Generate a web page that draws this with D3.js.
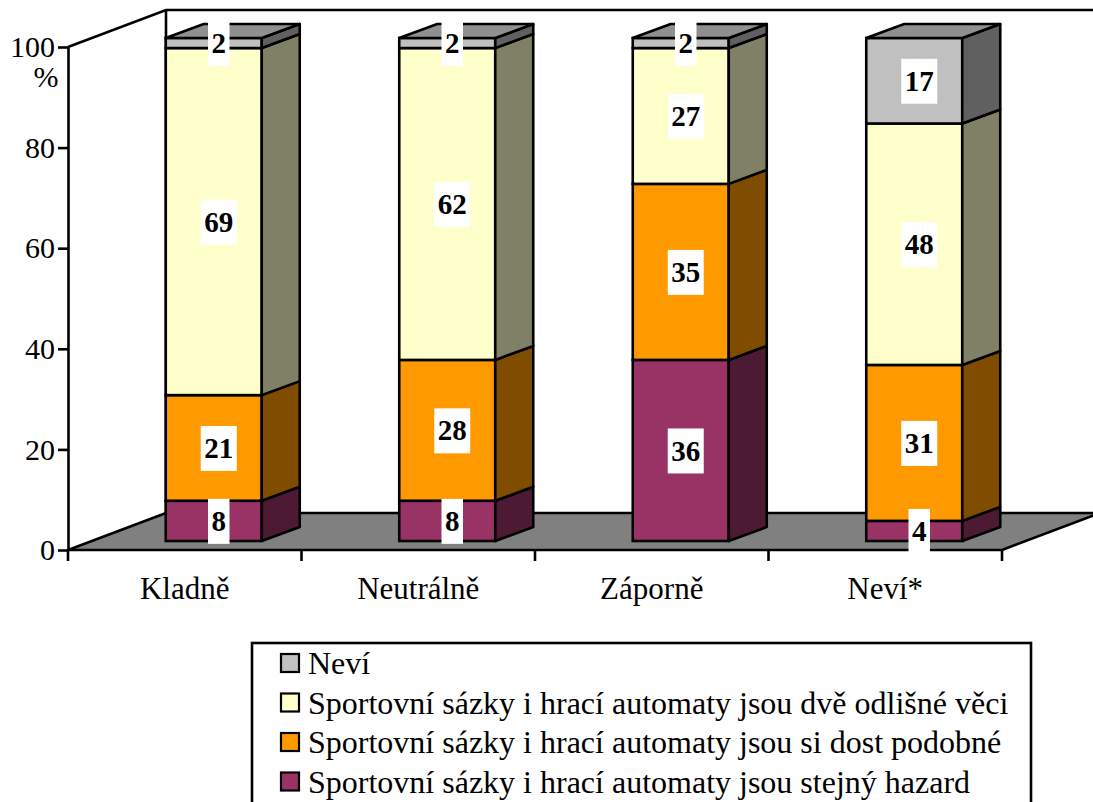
<!DOCTYPE html>
<html>
<head>
<meta charset="utf-8">
<script src="https://cdn.jsdelivr.net/npm/d3@7"></script>
<style>
  body { margin: 0; background: white; }
</style>
</head>
<body>
<div id="chart"></div>
<script>
// kategorie a hodnoty (%)
var categories = ["Kladně", "Neutrálně", "Záporně", "Neví*"];
var stejny = [8, 8, 36, 4];
var podobne = [21, 28, 35, 31];
var odlisne = [69, 62, 27, 48];
var nevi = [2, 2, 2, 17];
var yTicks = [0, 20, 40, 60, 80, 100];

var seriesNames = [
  "Sportovní sázky i hrací automaty jsou stejný hazard",
  "Sportovní sázky i hrací automaty jsou si dost podobné",
  "Sportovní sázky i hrací automaty jsou dvě odlišné věci",
  "Neví"
];
var seriesValues = [stejny, podobne, odlisne, nevi];
// barvy: přední stěna, boční stěna, horní stěna
var colors = [
  { front: "#993366", side: "#4d1a33", top: "#732650" },
  { front: "#ff9900", side: "#804c00", top: "#bf7300" },
  { front: "#ffffcc", side: "#808066", top: "#bfbf99" },
  { front: "#c0c0c0", side: "#606060", top: "#909090" }
];

var FONT = "'Liberation Serif', 'Times New Roman', Times, 'DejaVu Serif', serif";

var W = 1093, H = 802;
var svg = d3.select("#chart").append("svg").attr("width", W).attr("height", H)
  .attr("font-family", FONT);

var x = d3.scaleBand().domain(categories).range([68, 1002]);
var y = d3.scaleLinear().domain([0, 100]).range([550, 47]);

// hloubka 3D
var depth = { dx: 98, dy: -37 };
var barShift = { dx: 29, dy: -9 };
var barDepth = { dx: 38, dy: -14 };
var barW = 96;
var lw = 2.6;

var x0 = x.range()[0], x1 = x.range()[1], y0 = y(0), yTop = y(100);

// podlaha
svg.append("polygon")
  .attr("points", [[x0, y0], [x1, y0], [x1 + depth.dx, y0 + depth.dy], [x0 + depth.dx, y0 + depth.dy]].join(" "))
  .attr("fill", "#808080").attr("stroke", "black").attr("stroke-width", lw).attr("stroke-linejoin", "round");

// stěny (jen čáry)
var wall = svg.append("g").attr("stroke", "black").attr("stroke-width", lw).attr("fill", "none");
wall.append("path").attr("d", "M" + x0 + "," + yTop + "L" + (x0 + depth.dx) + "," + (yTop + depth.dy) +
  "L" + (W + 20) + "," + (yTop + depth.dy));
wall.append("path").attr("d", "M" + (x0 + depth.dx) + "," + (yTop + depth.dy) + "L" + (x0 + depth.dx) + "," + (y0 + depth.dy));

// sloupce
var stacks = categories.map(function(c, i) {
  var acc = 0;
  return seriesValues.map(function(vals, s) {
    var seg = { cat: c, s: s, v: vals[i], y0: acc, y1: acc + vals[i] };
    acc += vals[i];
    return seg;
  });
});

stacks.forEach(function(segs) {
  var g = svg.append("g");
  segs.forEach(function(d, k) {
    var fx = x(d.cat) + x.bandwidth() / 2 + barShift.dx - barW / 2;
    var yb = y(d.y0) + barShift.dy, yt = y(d.y1) + barShift.dy;
    g.append("rect")
      .attr("x", fx).attr("y", yt).attr("width", barW).attr("height", yb - yt)
      .attr("fill", colors[d.s].front).attr("stroke", "black").attr("stroke-width", lw);
    var rx = fx + barW;
    g.append("polygon")
      .attr("points", [[rx, yb], [rx + barDepth.dx, yb + barDepth.dy], [rx + barDepth.dx, yt + barDepth.dy], [rx, yt]].join(" "))
      .attr("fill", colors[d.s].side).attr("stroke", "black").attr("stroke-width", lw).attr("stroke-linejoin", "round");
    if (k === segs.length - 1) {
      g.append("polygon")
        .attr("points", [[fx, yt], [rx, yt], [rx + barDepth.dx, yt + barDepth.dy], [fx + barDepth.dx, yt + barDepth.dy]].join(" "))
        .attr("fill", colors[d.s].top).attr("stroke", "black").attr("stroke-width", lw).attr("stroke-linejoin", "round");
    }
  });
});

// popisky hodnot
stacks.forEach(function(segs) {
  segs.forEach(function(d) {
    var cx = x(d.cat) + x.bandwidth() / 2 + barShift.dx + 5;
    var cy = y((d.y0 + d.y1) / 2) + barShift.dy;
    var g = svg.append("g");
    var t = g.append("text")
      .attr("x", cx).attr("y", cy).attr("dy", "0.35em")
      .attr("text-anchor", "middle")
      .style("font-size", "29px").style("font-weight", "bold")
      .text(d.v);
    var bb = t.node().getBBox();
    g.insert("rect", "text")
      .attr("x", bb.x - 3.5).attr("y", cy - 22).attr("width", bb.width + 7).attr("height", 45)
      .attr("fill", "white");
  });
});

// osa Y
var yAxis = d3.axisLeft(y).tickValues(yTicks).tickSize(10).tickSizeOuter(0).tickPadding(3);
var yAxisG = svg.append("g").attr("transform", "translate(" + x0 + ",0)").call(yAxis)
  .attr("font-family", FONT).attr("font-size", 30);
yAxisG.selectAll("path, line").attr("stroke", "black").attr("stroke-width", lw);
yAxisG.selectAll("text").attr("fill", "black");
svg.append("text").attr("x", 46).attr("y", 76).attr("dy", "0.35em").attr("text-anchor", "middle")
  .style("font-size", "30px").text("%");

// osa X - značky na hranicích kategorií
var bounds = categories.map(function(c) { return x(c); }).concat([x1]);
svg.selectAll(".xtick").data(bounds).enter().append("line")
  .attr("class", "xtick")
  .attr("x1", function(d) { return d; }).attr("x2", function(d) { return d; })
  .attr("y1", y0).attr("y2", y0 + 11)
  .attr("stroke", "black").attr("stroke-width", lw);
svg.selectAll(".xlabel").data(categories).enter().append("text")
  .attr("class", "xlabel")
  .attr("x", function(d) { return x(d) + x.bandwidth() / 2; })
  .attr("y", 599)
  .attr("text-anchor", "middle")
  .style("font-size", "31px")
  .text(function(d) { return d; });

// legenda
var legend = svg.append("g");
legend.append("rect").attr("x", 252).attr("y", 643).attr("width", 779).attr("height", 200)
  .attr("fill", "white").attr("stroke", "black").attr("stroke-width", lw);
var legendOrder = [3, 2, 1, 0];
legendOrder.forEach(function(s, i) {
  var cy = 663 + i * 39.5;
  legend.append("rect").attr("x", 281).attr("y", cy - 9).attr("width", 18).attr("height", 18)
    .attr("fill", colors[s].front).attr("stroke", "black").attr("stroke-width", 2.2);
  legend.append("text").attr("x", 308).attr("y", cy).attr("dy", "0.35em")
    .style("font-size", "32px").text(seriesNames[s]);
});
</script>
</body>
</html>
